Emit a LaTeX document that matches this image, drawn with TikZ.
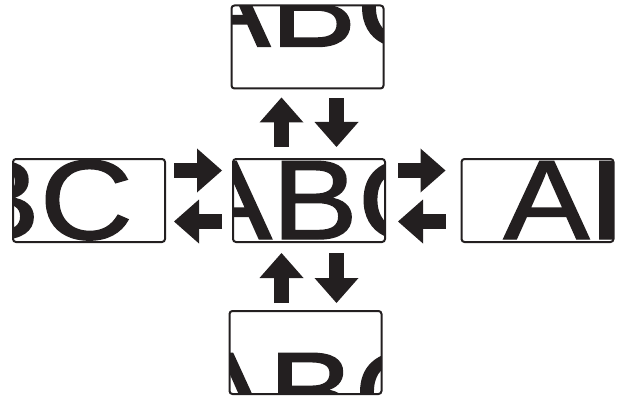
\documentclass[tikz,border=0pt]{standalone}
\usepackage{fontspec}
\setmainfont{Liberation Sans}
\newfontfamily\heavysans{Liberation Sans}[FakeBold=1.3]
\usepackage{graphicx}
\usetikzlibrary{arrows.meta,calc}
\definecolor{ink}{RGB}{35,31,32}
\begin{document}
\begin{tikzpicture}[x=1pt,y=1pt,
  panel/.style={draw=ink, line width=2pt, rounded corners=3pt,
    minimum width=152pt, minimum height=83pt, inner sep=0pt},
  letters/.style={anchor=base west, inner sep=0pt, text=ink,
    font=\heavysans\fontsize{113}{113}\selectfont},
  view/.style 2 args={path picture={\node[letters] at
    ([shift={(#1,#2)}]path picture bounding box.south west)
    {\scalebox{1.14}[1]{ABC}};}},
  barrow/.style={draw=ink, line width=15pt,
    -{Triangle[width=44pt,length=25pt,line width=0pt]}}]
\useasboundingbox (0,0) rectangle (621,397);
\node[panel, view={-48}{3}]   (C) at (309,196.5) {};
\node[panel, view={-48}{42}]  (T) at (307.5,350) {};
\node[panel, view={-48}{-37}] (B) at (305.5,44.5) {};
\node[panel, view={-146}{3}]  (L) at (89,196.5) {};
\node[panel, view={41}{3}]    (R) at (537.5,196.5) {};
% left pair
\draw[barrow] ($(L.east)+(8,30)$) -- ($(C.west)+(-10,30)$);
\draw[barrow] ($(C.west)+(-10,-21)$) -- ($(L.east)+(8,-21)$);
% right pair
\draw[barrow] ($(C.east)+(12,30)$) -- ($(R.west)+(-15,30)$);
\draw[barrow] ($(R.west)+(-15,-21)$) -- ($(C.east)+(12,-21)$);
% top pair
\draw[barrow] ($(C.north)+(-27.5,11)$) -- ($(C.north |- T.south)+(-27.5,-8)$);
\draw[barrow] ($(C.north |- T.south)+(27.5,-9)$) -- ($(C.north)+(27.5,11)$);
% bottom pair
\draw[barrow] ($(C.south |- B.north)+(-27.5,7)$) -- ($(C.south)+(-27.5,-10)$);
\draw[barrow] ($(C.south)+(27.5,-10)$) -- ($(C.south |- B.north)+(27.5,7)$);
\end{tikzpicture}
\end{document}
